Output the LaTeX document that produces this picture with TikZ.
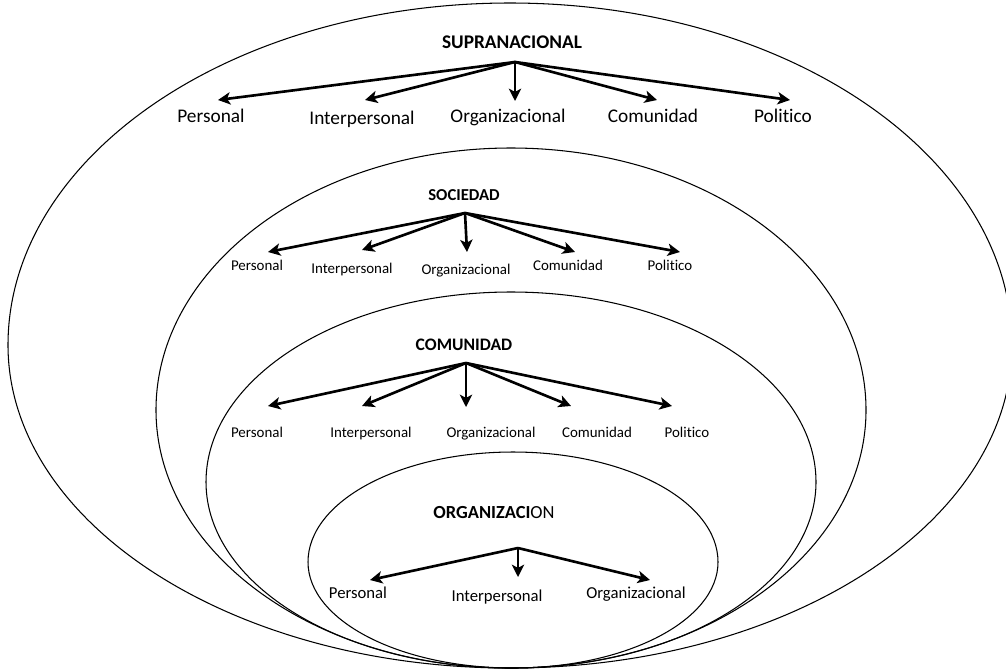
\documentclass[tikz,border=0pt]{standalone}
\usepackage{fontspec}
\setmainfont{Carlito}[Ligatures=NoCommon]
\usetikzlibrary{arrows.meta}

\tikzset{
  ring/.style={line width=0.6pt},
  arr/.style={line width=1.5pt,-{Stealth[length=7pt,width=7pt,inset=1.8pt]}},
  lvltitle/.style={anchor=base,inner sep=0pt,font=\fontsize{#1}{#1}\selectfont\bfseries},
  lbl/.style={anchor=base,inner sep=0pt,font=\fontsize{#1}{#1}\selectfont},
}

\begin{document}
\begin{tikzpicture}[x=0.02cm,y=-0.02cm]
	\useasboundingbox (0,0) rectangle (1006,670);
	\clip (0,0) rectangle (1006,670);
	% nested rings, all touching at the bottom
	\draw[ring] (8,345) arc[start angle=180,end angle=360,x radius=502,y radius=342]
		arc[start angle=0,end angle=180,x radius=502,y radius=323];
	\draw[ring] (156,410) arc[start angle=180,end angle=360,x radius=355,y radius=262]
		arc[start angle=0,end angle=180,x radius=355,y radius=258];
	\draw[ring] (206,482) arc[start angle=180,end angle=360,x radius=305,y radius=190]
		arc[start angle=0,end angle=180,x radius=305,y radius=186];
	\draw[ring] (308,562) arc[start angle=180,end angle=360,x radius=205,y radius=110]
		arc[start angle=0,end angle=180,x radius=205,y radius=106];

	% supranacional
	\node[lvltitle=11] (supra) at (512,48) {SUPRANACIONAL};
	\coordinate (supraH) at (515,62);
	\node[lbl=11] (supraPer) at (211,122) {Personal};
	\node[lbl=11] (supraInt) at (362,124) {Interpersonal};
	\node[lbl=11] (supraOrg) at (508,122) {Organizacional};
	\node[lbl=11] (supraCom) at (653,122) {Comunidad};
	\node[lbl=11] (supraPol) at (783,122) {Politico};
	\coordinate (supraPerT) at (218,100);
	\coordinate (supraIntT) at (365,100);
	\coordinate (supraOrgT) at (515,101);
	\coordinate (supraComT) at (657,100);
	\coordinate (supraPolT) at (790,100);
	\draw[arr] (supraH) -- (supraPerT);
	\draw[arr] (supraH) -- (supraIntT);
	\draw[arr] (supraH) -- (supraOrgT);
	\draw[arr] (supraH) -- (supraComT);
	\draw[arr] (supraH) -- (supraPolT);

	% sociedad
	\node[lvltitle=9.5] (soc) at (464,200) {SOCIEDAD};
	\coordinate (socH) at (465,213);
	\node[lbl=8.5] (socPer) at (257,270) {Personal};
	\node[lbl=8.5] (socInt) at (352,273) {Interpersonal};
	\node[lbl=8.5] (socOrg) at (466,274) {Organizacional};
	\node[lbl=8.5] (socCom) at (568,270) {Comunidad};
	\node[lbl=8.5] (socPol) at (670,270) {Politico};
	\coordinate (socPerT) at (268,252);
	\coordinate (socIntT) at (362,250);
	\coordinate (socOrgT) at (467,252);
	\coordinate (socComT) at (575,252);
	\coordinate (socPolT) at (680,252);
	\draw[arr] (socH) -- (socPerT);
	\draw[arr] (socH) -- (socIntT);
	\draw[arr] (socH) -- (socOrgT);
	\draw[arr] (socH) -- (socComT);
	\draw[arr] (socH) -- (socPolT);

	% comunidad
	\node[lvltitle=10] (com) at (464,350) {COMUNIDAD};
	\coordinate (comH) at (466,363);
	\node[lbl=8.5] (comPer) at (257,437) {Personal};
	\node[lbl=8.5] (comInt) at (371,437) {Interpersonal};
	\node[lbl=8.5] (comOrg) at (491,437) {Organizacional};
	\node[lbl=8.5] (comCom) at (597,437) {Comunidad};
	\node[lbl=8.5] (comPol) at (687,437) {Politico};
	\coordinate (comPerT) at (268,406);
	\coordinate (comIntT) at (362,406);
	\coordinate (comOrgT) at (466,407);
	\coordinate (comComT) at (571,406);
	\coordinate (comPolT) at (672,406);
	\draw[arr] (comH) -- (comPerT);
	\draw[arr] (comH) -- (comIntT);
	\draw[arr] (comH) -- (comOrgT);
	\draw[arr] (comH) -- (comComT);
	\draw[arr] (comH) -- (comPolT);

	% organizacion
	\node[lbl=10.5] (org) at (494,518) {\textbf{ORGANIZACI}ON};
	\coordinate (orgH) at (518,548);
	\node[lbl=9.5] (orgPer) at (358,598) {Personal};
	\node[lbl=9.5] (orgInt) at (497,601) {Interpersonal};
	\node[lbl=9.5] (orgOrg) at (636,598) {Organizacional};
	\coordinate (orgPerT) at (370,580);
	\coordinate (orgIntT) at (518,577);
	\coordinate (orgOrgT) at (650,580);
	\draw[arr] (orgH) -- (orgPerT);
	\draw[arr] (orgH) -- (orgIntT);
	\draw[arr] (orgH) -- (orgOrgT);
\end{tikzpicture}
\end{document}
